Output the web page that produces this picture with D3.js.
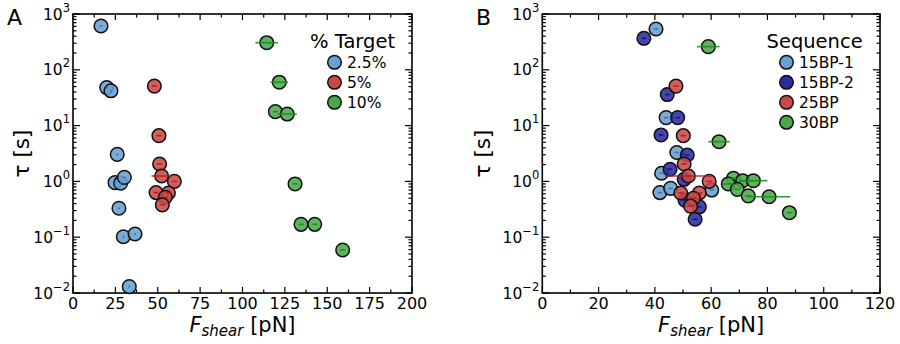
<!DOCTYPE html>
<html><head><meta charset="utf-8">
<script src="https://cdn.jsdelivr.net/npm/d3@7"></script>
<style>body{margin:0;background:#fff}svg{display:block;font-family:"DejaVu Sans",sans-serif}</style>
</head><body><svg id="c" width="900" height="344"></svg>
<script>
// ---- Panel A data (% Target) ----
const a25_F   = [16.5, 19.9, 22.4, 26.1, 24.8, 28.1, 30.3, 27.1, 29.7, 36.6, 33.2];
const a25_tau = [610, 48, 42, 3.05, 0.95, 0.93, 1.18, 0.33, 0.102, 0.114, 0.013];
const a25_err = [0.6, 0.6, 0.6, 0.6, 0.6, 0.6, 0.6, 0.6, 0.6, 0.6, 0.6];
const a5_F    = [48, 50.7, 51.1, 52.3, 59.8, 49, 56.3, 54.5, 52.7];
const a5_tau  = [51, 6.6, 2.05, 1.25, 1.0, 0.63, 0.62, 0.52, 0.38];
const a5_err  = [1.5, 1.5, 1.5, 6, 1.5, 1.5, 1.5, 1.5, 1.5];
const a10_F   = [114.3, 121.7, 119.4, 126.4, 131, 134.5, 142.6, 159.1];
const a10_tau = [306, 60, 17.8, 16.1, 0.9, 0.17, 0.17, 0.059];
const a10_err = [6.7, 5.2, 1.5, 5.6, 1.5, 1.5, 1.5, 1.5];
const aLabels = ["2.5%", "5%", "10%"];
// ---- Panel B data (Sequence) ----
const b15a_F   = [40.4, 44, 47.8, 42.4, 41.8, 45.6, 60.2];
const b15a_tau = [538, 13.9, 3.3, 1.4, 0.63, 0.75, 0.70];
const b15a_err = [0.8, 0.8, 0.8, 0.8, 0.8, 0.8, 0.8];
const b15b_F   = [36.1, 44.4, 48.1, 42.2, 51.5, 45.4, 50.4, 50.7, 55.8, 54.3];
const b15b_tau = [367, 36, 13.9, 6.8, 2.97, 1.65, 1.09, 0.46, 0.35, 0.21];
const b15b_err = [0.8, 0.8, 0.8, 0.8, 0.8, 0.8, 0.8, 0.8, 0.8, 0.8];
const b25_F    = [47.5, 50.1, 50.4, 51.9, 59.3, 49.2, 55.8, 53.7, 52.7];
const b25_tau  = [51, 6.6, 2.05, 1.25, 1.0, 0.62, 0.62, 0.5, 0.36];
const b25_err  = [1, 1, 1, 8.4, 1, 1, 1, 1, 1];
const b30_F    = [59, 62.8, 67.9, 71.2, 75, 66.1, 69.3, 73.2, 80.6, 87.8];
const b30_tau  = [260, 5.15, 1.14, 1.03, 1.03, 0.9, 0.72, 0.55, 0.53, 0.275];
const b30_err  = [4, 3.8, 1, 1, 5, 2, 1, 1, 7.5, 1];
const bLabels = ["15BP-1", "15BP-2", "25BP", "30BP"];
// ---- axis ticks ----
const aXTicks = [0, 25, 50, 75, 100, 125, 150, 175, 200];
const bXTicks = [0, 20, 40, 60, 80, 100, 120];
const yExps = [-2, -1, 0, 1, 2, 3];

const C = {
  lb: {fill:"#6a9fd2", err:"#3a6fa8"},
  db: {fill:"#2b2ba0", err:"#12126a"},
  rd: {fill:"#cc4848", err:"#a82222"},
  gr: {fill:"#4aa84a", err:"#1f8a1f"}
};

const svg = d3.select("#c");
const yTop = 14, yBot = 293;

function panel(opt) {
  const x = d3.scaleLinear().domain(opt.xdom).range([opt.x0, opt.x1]);
  const y = d3.scaleLog().domain([1e-2, 1e3]).range([yBot, yTop]);
  const g = svg.append("g");
  const step = opt.xticks[1] - opt.xticks[0];
  const minorX = d3.range(opt.xdom[0] + step / 2, opt.xdom[1], step);
  const tk = g.append("g").attr("stroke", "#000").attr("stroke-width", 1.2);
  opt.xticks.forEach(v => {
    tk.append("line").attr("x1", x(v)).attr("x2", x(v)).attr("y1", yBot).attr("y2", yBot - 6);
    tk.append("line").attr("x1", x(v)).attr("x2", x(v)).attr("y1", yTop).attr("y2", yTop + 6);
  });
  minorX.forEach(v => {
    tk.append("line").attr("x1", x(v)).attr("x2", x(v)).attr("y1", yBot).attr("y2", yBot - 3.5);
    tk.append("line").attr("x1", x(v)).attr("x2", x(v)).attr("y1", yTop).attr("y2", yTop + 3.5);
  });
  yExps.forEach(e => {
    const v = Math.pow(10, e);
    tk.append("line").attr("x1", opt.x0).attr("x2", opt.x0 + 7).attr("y1", y(v)).attr("y2", y(v));
    tk.append("line").attr("x1", opt.x1).attr("x2", opt.x1 - 7).attr("y1", y(v)).attr("y2", y(v));
    if (e < 3) for (let m = 2; m <= 9; m++) {
      const yy = y(m * v);
      tk.append("line").attr("x1", opt.x0).attr("x2", opt.x0 + 3.5).attr("y1", yy).attr("y2", yy);
      tk.append("line").attr("x1", opt.x1).attr("x2", opt.x1 - 3.5).attr("y1", yy).attr("y2", yy);
    }
  });
  g.append("rect").attr("x", opt.x0).attr("y", yTop).attr("width", opt.x1 - opt.x0).attr("height", yBot - yTop)
    .attr("fill", "none").attr("stroke", "#000").attr("stroke-width", 1.6);
  opt.xticks.forEach(v => {
    g.append("text").attr("x", x(v)).attr("y", 309).attr("text-anchor", "middle")
      .attr("font-size", 16).text(v);
  });
  yExps.forEach(e => {
    const t = g.append("text").attr("x", opt.x0 - 3).attr("y", y(Math.pow(10, e)) + 5.5)
      .attr("text-anchor", "end").attr("font-size", 15.5);
    t.append("tspan").text("10");
    t.append("tspan").attr("font-size", 11.5).attr("dy", -8).text(e < 0 ? "\u2212" + (-e) : String(e));
  });
  const xl = g.append("text").attr("x", (opt.x0 + opt.x1) / 2).attr("y", 332)
    .attr("text-anchor", "middle").attr("font-size", 21);
  xl.append("tspan").attr("font-style", "italic").text("F");
  xl.append("tspan").attr("font-style", "italic").attr("font-size", 15).attr("dy", 4).text("shear");
  xl.append("tspan").attr("dy", -4).text(" [pN]");
  g.append("text").attr("transform", `translate(${opt.ylx},${(yTop + yBot) / 2}) rotate(-90)`)
    .attr("text-anchor", "middle").attr("font-size", 21.5).text("\u03c4 [s]");
  g.append("text").attr("x", opt.letterX).attr("y", 25).attr("font-size", 22).text(opt.letter);
  opt.series.forEach(s => {
    const sg = g.append("g");
    const pts = s.F.map((f, i) => ({f, t: s.tau[i], e: s.err[i]}));
    sg.selectAll("circle").data(pts).join("circle")
      .attr("cx", d => x(d.f)).attr("cy", d => y(d.t)).attr("r", 6.8)
      .attr("fill", s.col.fill).attr("fill-opacity", 0.88)
      .attr("stroke", "#111").attr("stroke-width", 1.5);
    sg.selectAll("line").data(pts).join("line")
      .attr("x1", d => x(d.f - d.e)).attr("x2", d => x(d.f + d.e))
      .attr("y1", d => y(d.t)).attr("y2", d => y(d.t))
      .attr("stroke", s.col.err).attr("stroke-width", 1.6).attr("stroke-opacity", 0.9);
  });
  const lg = g.append("g");
  lg.append("text").attr("x", opt.legX).attr("y", 48).attr("font-size", 19.5).text(opt.legTitle);
  opt.series.forEach((s, i) => {
    const yy = 62.3 + i * 20;
    lg.append("circle").attr("cx", opt.legX + opt.legOff).attr("cy", yy).attr("r", 6.8)
      .attr("fill", s.col.fill).attr("stroke", "#111").attr("stroke-width", 1.5);
    lg.append("text").attr("x", opt.legX + opt.legOff + 12.5).attr("y", yy + 5.5)
      .attr("font-size", 15.5).text(opt.labels[i]);
  });
}

panel({
  x0: 73, x1: 412, xdom: [0, 200], xticks: aXTicks, ylx: 29, letter: "A", letterX: 7,
  legX: 310, legOff: 24.5, legTitle: "% Target", labels: aLabels,
  series: [
    {F: a25_F, tau: a25_tau, err: a25_err, col: C.lb},
    {F: a5_F, tau: a5_tau, err: a5_err, col: C.rd},
    {F: a10_F, tau: a10_tau, err: a10_err, col: C.gr}
  ]
});
panel({
  x0: 542.3, x1: 880, xdom: [0, 120], xticks: bXTicks, ylx: 490, letter: "B", letterX: 476,
  legX: 766.5, legOff: 20, legTitle: "Sequence", labels: bLabels,
  series: [
    {F: b15a_F, tau: b15a_tau, err: b15a_err, col: C.lb},
    {F: b15b_F, tau: b15b_tau, err: b15b_err, col: C.db},
    {F: b25_F, tau: b25_tau, err: b25_err, col: C.rd},
    {F: b30_F, tau: b30_tau, err: b30_err, col: C.gr}
  ]
});
</script></body></html>
